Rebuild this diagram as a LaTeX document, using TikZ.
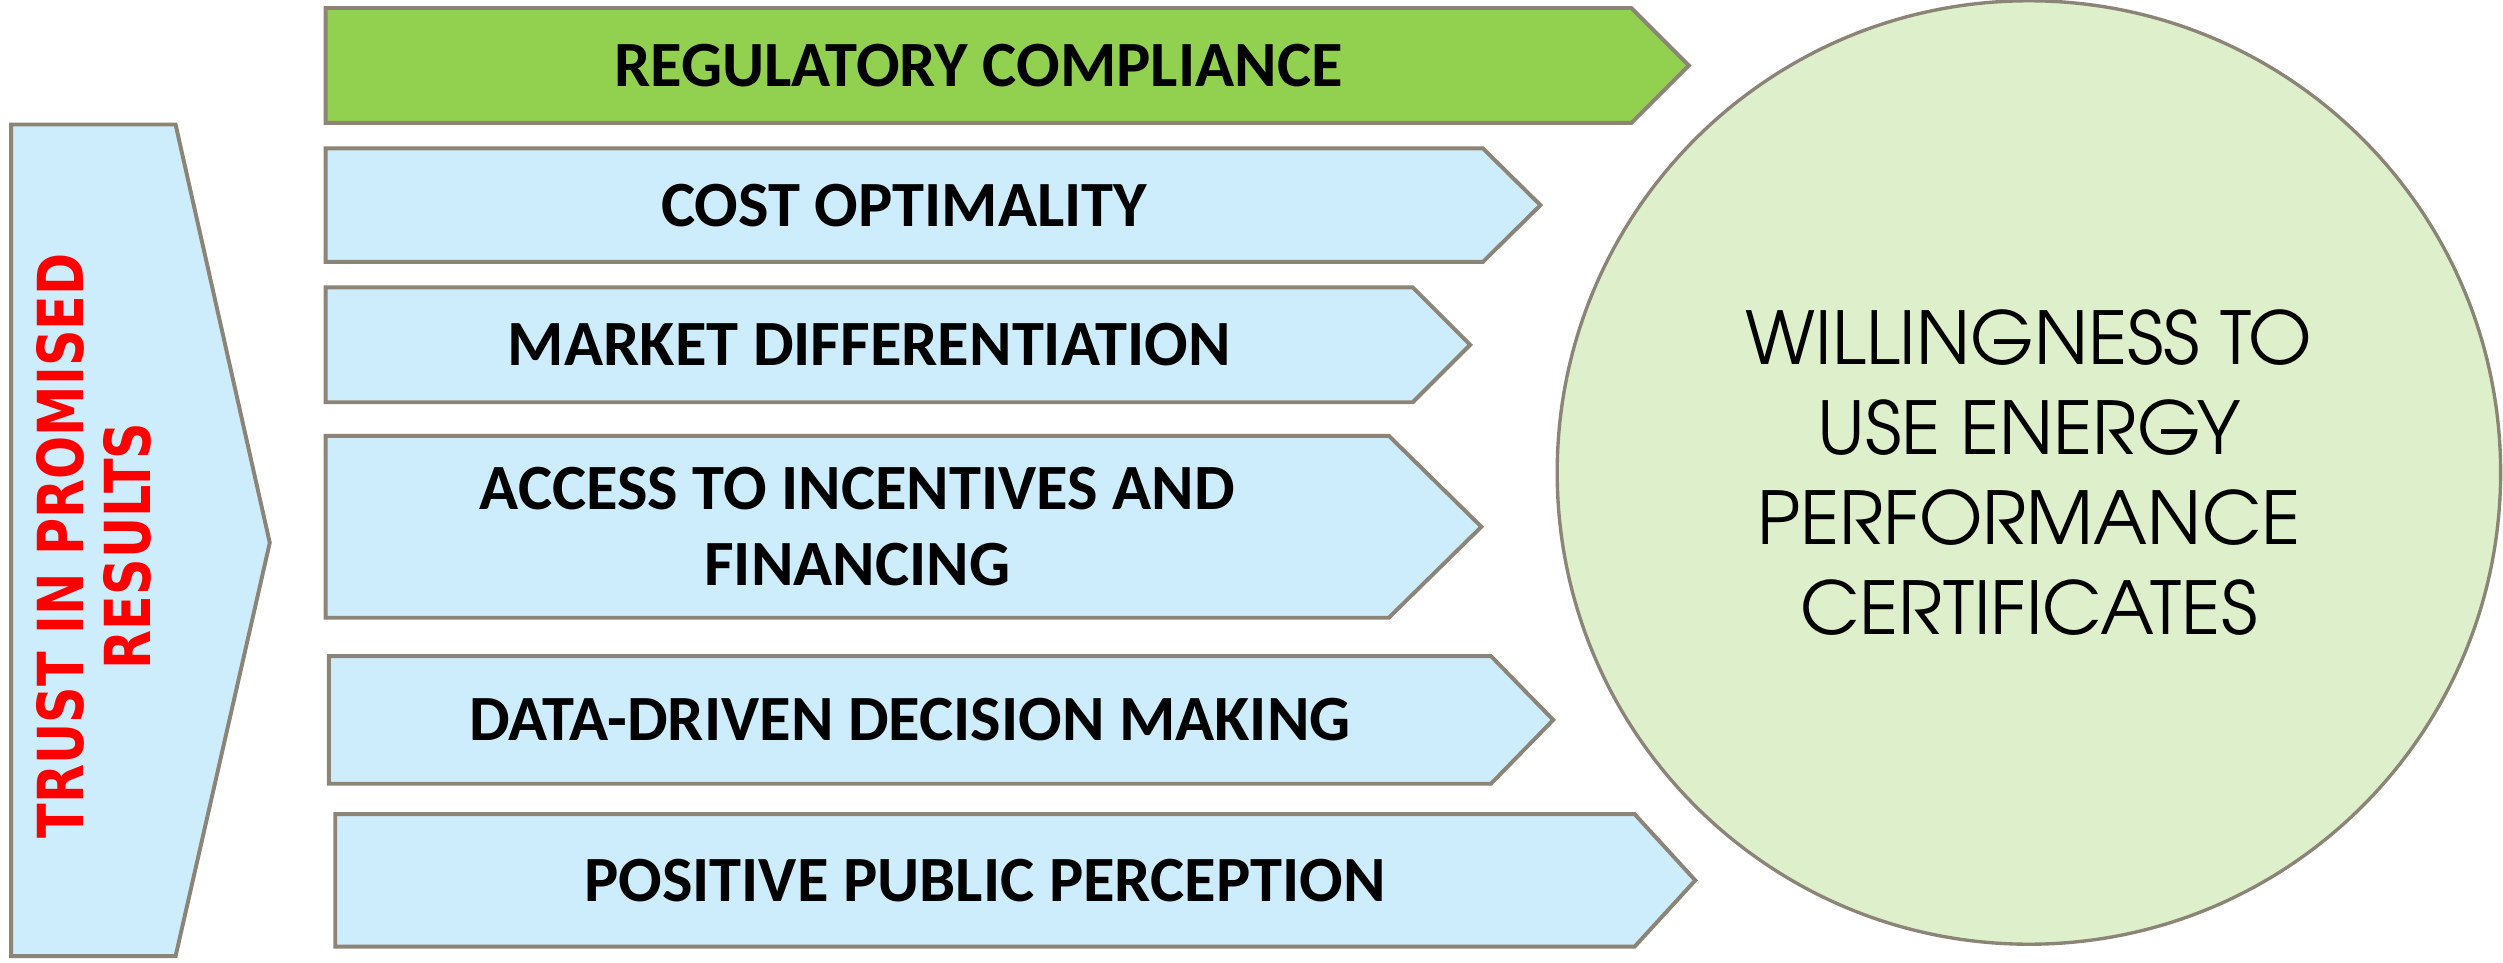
\documentclass[tikz,border=0pt]{standalone}
\usepackage{fontspec}
\setmainfont{Carlito}
\newfontfamily\trustfont[FakeStretch=0.8]{DejaVu Sans}
\newfontfamily\circfont{TeX Gyre Adventor}
\usetikzlibrary{positioning}
\definecolor{edge}{RGB}{140,132,118}
\definecolor{paleblue}{RGB}{205,237,252}
\definecolor{leafgreen}{RGB}{146,208,80}
\definecolor{palegreen}{RGB}{222,239,203}

\begin{document}
\begin{tikzpicture}[x=0.2mm, y=-0.2mm,
		box/.style={draw=edge, line width=1.4pt, line join=miter, fill=paleblue},
		boxtext/.style={font=\bfseries\fontsize{23}{27}\selectfont, align=center, inner sep=0pt}]
			\useasboundingbox (0,0) rectangle (1568,603);
			% left chevron
			\draw[box] (7,78) -- (110,78) -- (169,340) -- (110,599) -- (7,599) -- cycle;
			\node[rotate=90, text=red, align=center, font=\trustfont\bfseries\fontsize{22.6}{24}\selectfont] (trust) at (59,342) {TRUST IN PROMISED\\RESULTS};
			% arrows
			\draw[box, fill=leafgreen] (204,5) -- (1022,5) -- (1058,41) -- (1022,77) -- (204,77) -- cycle;
			\node[boxtext] (regul) at (613,41) {REGULATORY COMPLIANCE};
			\draw[box] (204,93) -- (929,93) -- (965,128.5) -- (929,164) -- (204,164) -- cycle;
			\node[boxtext] (cost) at (566.5,128.5) {COST OPTIMALITY};
			\draw[box] (204,180) -- (885,180) -- (921,216) -- (885,252) -- (204,252) -- cycle;
			\node[boxtext] (market) at (544.5,216) {MARKET DIFFERENTIATION};
			\draw[box] (204,273) -- (870,273) -- (928,330) -- (870,387) -- (204,387) -- cycle;
			\node[boxtext] (access) at (537,330) {ACCESS TO INCENTIVES AND\\FINANCING};
			\draw[box] (206,411) -- (934,411) -- (973,451) -- (934,491) -- (206,491) -- cycle;
			\node[boxtext] (data) at (570,451) {DATA-DRIVEN DECISION MAKING};
			\draw[box] (210,510) -- (1024,510) -- (1062,551.5) -- (1024,593) -- (210,593) -- cycle;
			\node[boxtext] (public) at (617,551.5) {POSITIVE PUBLIC PERCEPTION};
			% goal
			\node[circle, draw=edge, line width=1.2pt, fill=palegreen, minimum size=118.2mm, align=center,
				font=\circfont\fontsize{26}{32}\selectfont] (willing) at (1271,296) {WILLINGNESS TO\\USE ENERGY\\PERFORMANCE\\CERTIFICATES};
\end{tikzpicture}
\end{document}
